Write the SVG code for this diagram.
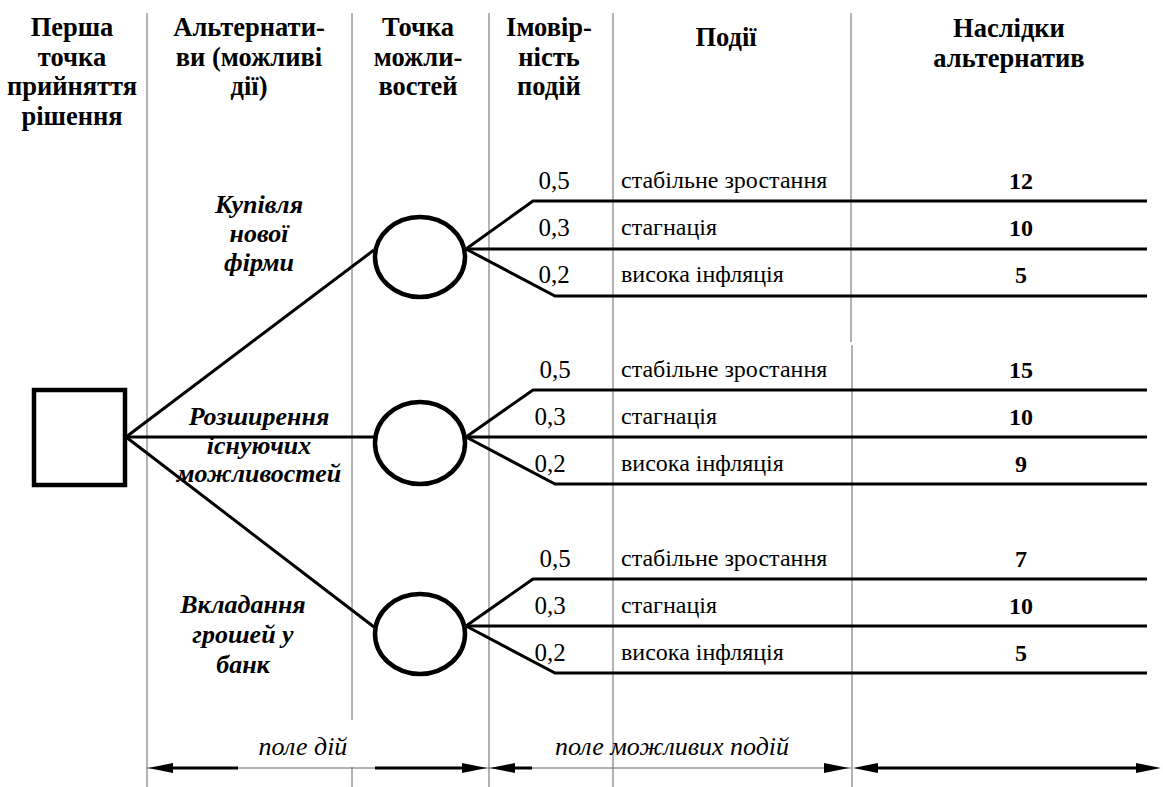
<svg xmlns="http://www.w3.org/2000/svg" width="1163" height="787" viewBox="0 0 1163 787">
<style>
.grid{stroke:#666;stroke-width:1;fill:none}
.thick{stroke:#000;stroke-width:3;fill:none}
.node{stroke:#000;stroke-width:4.5;fill:#fff}
text{font-family:'Liberation Serif','Times New Roman',Times,serif;fill:#000}
.hd{font-weight:bold;font-size:26.5px;text-anchor:middle}
.alt{font-weight:bold;font-style:italic;font-size:26px;text-anchor:middle}
.pr{font-size:25px;text-anchor:middle}
.ev{font-size:24px}
.num{font-weight:bold;font-size:24px;text-anchor:middle}
.fld{font-style:italic;font-size:26px;text-anchor:middle}
.ah{fill:#000}
</style>
<defs>
<path id="ahR" class="ah" d="M0,0 L-25,-5 L-25,5 Z"/>
<path id="ahL" class="ah" d="M0,0 L25,-5 L25,5 Z"/>
</defs>
<rect width="1163" height="787" fill="#fff"/>
<g id="grid">
<line class="grid" x1="147" y1="13" x2="147" y2="787"/>
<line class="grid" x1="352" y1="13" x2="352" y2="720"/>
<line class="grid" x1="352" y1="767" x2="352" y2="787"/>
<line class="grid" x1="489" y1="13" x2="489" y2="787"/>
<line class="grid" x1="613" y1="13" x2="613" y2="787"/>
<line class="grid" x1="851" y1="13" x2="851" y2="342"/>
<line class="grid" x1="852" y1="345" x2="852" y2="787"/>
</g>
<g id="headers">
<text class="hd"><tspan x="72" y="36">Перша</tspan><tspan x="72" y="65.5">точка</tspan><tspan x="72" y="95">прийняття</tspan><tspan x="72" y="124.5">рішення</tspan></text>
<text class="hd"><tspan x="249" y="36">Альтернати-</tspan><tspan x="249" y="65.5">ви (можливі</tspan><tspan x="249" y="95">дії)</tspan></text>
<text class="hd"><tspan x="418" y="36">Точка</tspan><tspan x="418" y="65.5">можли-</tspan><tspan x="418" y="95">востей</tspan></text>
<text class="hd"><tspan x="549" y="36">Імовір-</tspan><tspan x="549" y="65.5">ність</tspan><tspan x="549" y="95">подій</tspan></text>
<text class="hd" x="726" y="46">Події</text>
<text class="hd"><tspan x="1009" y="37">Наслідки</tspan><tspan x="1009" y="66.5">альтернатив</tspan></text>
</g>
<g id="connectors">
<line class="thick" x1="126" y1="437" x2="374" y2="250"/>
<line class="thick" x1="126" y1="437" x2="374" y2="437"/>
<line class="thick" x1="126" y1="437" x2="374" y2="627"/>
<polyline class="thick" points="466,249 533,201 1147,201"/>
<polyline class="thick" points="466,249 1147,249"/>
<polyline class="thick" points="466,249 555,296 1147,296"/>
<polyline class="thick" points="466,437 533,390 1147,390"/>
<polyline class="thick" points="466,437 1147,437"/>
<polyline class="thick" points="466,437 555,484 1147,484"/>
<polyline class="thick" points="466,626 533,579 1147,579"/>
<polyline class="thick" points="466,626 1147,626"/>
<polyline class="thick" points="466,626 555,673 1147,673"/>
</g>
<g id="decision"><rect class="node" x="34" y="390" width="91" height="95"/></g>
<g id="chance1"><ellipse class="node" cx="420" cy="257" rx="45" ry="40"/></g>
<g id="chance2"><ellipse class="node" cx="420" cy="443" rx="45" ry="41"/></g>
<g id="chance3"><ellipse class="node" cx="420" cy="634" rx="45" ry="40"/></g>
<g id="alternatives">
<text class="alt"><tspan x="259" y="213">Купівля</tspan><tspan x="259" y="242">нової</tspan><tspan x="259" y="271">фірми</tspan></text>
<text class="alt"><tspan x="259" y="425">Розширення</tspan><tspan x="259" y="453.5">існуючих</tspan><tspan x="259" y="482">можливостей</tspan></text>
<text class="alt"><tspan x="243" y="613">Вкладання</tspan><tspan x="243" y="643">грошей у</tspan><tspan x="243" y="673">банк</tspan></text>
</g>
<g id="outcomes1">
<text class="pr" x="554" y="189">0,5</text><text class="ev" x="621" y="188">стабільне зростання</text><text class="num" x="1021" y="189">12</text>
<text class="pr" x="554" y="236">0,3</text><text class="ev" x="621" y="235">стагнація</text><text class="num" x="1021" y="236">10</text>
<text class="pr" x="554" y="283">0,2</text><text class="ev" x="621" y="282">висока інфляція</text><text class="num" x="1021" y="283">5</text>
</g>
<g id="outcomes2">
<text class="pr" x="555" y="378">0,5</text><text class="ev" x="621" y="377">стабільне зростання</text><text class="num" x="1021" y="378">15</text>
<text class="pr" x="550" y="425">0,3</text><text class="ev" x="621" y="424">стагнація</text><text class="num" x="1021" y="425">10</text>
<text class="pr" x="550" y="472">0,2</text><text class="ev" x="621" y="471">висока інфляція</text><text class="num" x="1021" y="472">9</text>
</g>
<g id="outcomes3">
<text class="pr" x="555" y="567">0,5</text><text class="ev" x="621" y="566">стабільне зростання</text><text class="num" x="1021" y="567">7</text>
<text class="pr" x="550" y="614">0,3</text><text class="ev" x="621" y="613">стагнація</text><text class="num" x="1021" y="614">10</text>
<text class="pr" x="550" y="661">0,2</text><text class="ev" x="621" y="660">висока інфляція</text><text class="num" x="1021" y="661">5</text>
</g>
<g id="fields">
<line class="grid" x1="147" y1="768" x2="851" y2="768"/>
<line class="thick" x1="165" y1="768" x2="238" y2="768"/>
<line class="thick" x1="375" y1="768" x2="470" y2="768"/>
<use href="#ahL" x="148" y="768"/>
<use href="#ahR" x="487" y="768"/>
<line class="thick" x1="505" y1="768" x2="532" y2="768"/>
<use href="#ahL" x="490" y="768"/>
<use href="#ahR" x="849" y="768"/>
<line class="thick" x1="870" y1="768" x2="1145" y2="768"/>
<use href="#ahL" x="853" y="768"/>
<use href="#ahR" x="1161" y="768"/>
<text class="fld" x="303" y="755">поле дій</text>
<text class="fld" x="672" y="755">поле можливих подій</text>
</g>
</svg>
